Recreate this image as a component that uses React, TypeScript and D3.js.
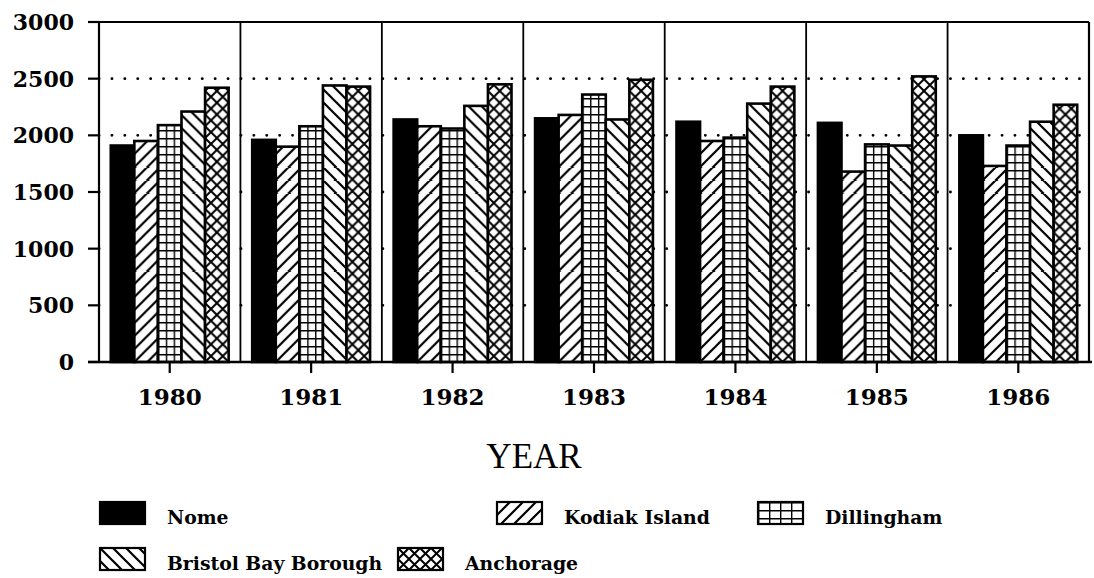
import React from 'react';
import { scaleBand, scaleLinear } from 'd3';

// data
const years = ['1980', '1981', '1982', '1983', '1984', '1985', '1986'];
const seriesNames = ['Nome', 'Kodiak Island', 'Dillingham', 'Bristol Bay Borough', 'Anchorage'];
const nome = [1910, 1960, 2140, 2150, 2120, 2110, 2000];
const kodiak = [1950, 1900, 2080, 2180, 1950, 1680, 1730];
const dillingham = [2090, 2080, 2060, 2360, 1980, 1920, 1910];
const bristol = [2210, 2440, 2260, 2140, 2280, 1910, 2120];
const anchorage = [2420, 2430, 2450, 2490, 2430, 2520, 2270];
const yTickValues = [0, 500, 1000, 1500, 2000, 2500, 3000];
const gridValues = [500, 1000, 1500, 2000, 2500];

const seriesValues = [nome, kodiak, dillingham, bristol, anchorage];
const fills = ['solid', 'fwd', 'grid', 'back', 'cross'];

const FONT = '"DejaVu Serif", serif';

// draws the hatch inside a pattern tile of w x h
function Hatch({ kind, w, h }: { kind: string; w: number; h: number }) {
  if (kind === 'solid') return <rect width={w} height={h} fill="#000" />;
  let d = '';
  let sw = 2.2;
  if (kind === 'fwd') d = `M0,${h} L${w},0 M${-w / 2},${h / 2} L${w / 2},${-h / 2} M${w / 2},${1.5 * h} L${1.5 * w},${h / 2}`;
  if (kind === 'back') d = `M0,0 L${w},${h} M${-w / 2},${h / 2} L${w / 2},${1.5 * h} M${w / 2},${-h / 2} L${1.5 * w},${h / 2}`;
  if (kind === 'grid') { d = `M0,0 L${w},0 M0,0 L0,${h}`; sw = 2.8; }
  if (kind === 'cross') { d = `M0,0 L${w},${h} M${w},0 L0,${h}`; sw = 2; }
  return (
    <g>
      <rect width={w} height={h} fill="#fff" />
      <path d={d} stroke="#000" strokeWidth={sw} fill="none" />
    </g>
  );
}

export default function App() {
  const left = 99, right = 1089, top = 22, bottom = 362;

  const x0 = scaleBand().domain(years).range([left, right]).padding(0);
  const step = x0.bandwidth();
  const x1 = scaleBand().domain(seriesNames).range([step / 12, step * 11 / 12]).padding(0);
  const bw = x1.bandwidth();
  const y = scaleLinear().domain([0, 3000]).range([bottom, top]);

  const tileSize = (kind: string) => {
    if (kind === 'grid') return [bw / 3, 8];
    if (kind === 'cross') return [bw / 2, bw / 2];
    if (kind === 'solid') return [10, 10];
    return [13, 13];
  };

  const patterns: JSX.Element[] = [];
  const bars: JSX.Element[] = [];
  years.forEach((yr, i) => {
    seriesNames.forEach((s, j) => {
      const v = seriesValues[j][i];
      const bx = (x0(yr) as number) + (x1(s) as number);
      const [tw, th] = tileSize(fills[j]);
      const id = `p-${i}-${j}`;
      patterns.push(
        <pattern key={id} id={id} patternUnits="userSpaceOnUse" x={bx} y={bottom} width={tw} height={th}>
          <Hatch kind={fills[j]} w={tw} h={th} />
        </pattern>
      );
      bars.push(
        <rect key={id} x={bx} y={y(v)} width={bw} height={bottom - y(v)}
          fill={`url(#${id})`} stroke="#000" strokeWidth={2.6} />
      );
    });
  });

  // legend placement (layout only)
  const legendPos = [
    [100, 502], [497, 502], [758, 502],
    [100, 548], [398, 548],
  ];
  const legendPatterns = seriesNames.map((s, j) => {
    const [tw, th] = fills[j] === 'grid' ? [11, 8] : fills[j] === 'cross' ? [11, 11] : tileSize(fills[j]);
    const [lx, ly] = legendPos[j];
    return (
      <pattern key={'lp' + j} id={'lp' + j} patternUnits="userSpaceOnUse" x={lx} y={ly} width={tw} height={th}>
        <Hatch kind={fills[j]} w={tw} h={th} />
      </pattern>
    );
  });

  return (
    <svg width={1094} height={578} style={{ position: 'absolute', left: 0, top: 0, background: '#fff' }}>
      <defs>
        {patterns}
        {legendPatterns}
      </defs>

      {/* dotted grid */}
      {gridValues.map(v => (
        <line key={v} x1={left} x2={right} y1={y(v)} y2={y(v)} stroke="#000"
          strokeWidth={2.8} strokeDasharray="0.1 12.8" strokeLinecap="round" />
      ))}

      {/* group separators */}
      {years.slice(1).map(yr => (
        <line key={yr} x1={x0(yr)} x2={x0(yr)} y1={top} y2={bottom} stroke="#000" strokeWidth={1.8} />
      ))}

      {bars}

      {/* frame */}
      <line x1={88} x2={right} y1={top} y2={top} stroke="#000" strokeWidth={2.2} />
      <line x1={left} x2={left} y1={top} y2={bottom} stroke="#000" strokeWidth={2.2} />
      <line x1={right} x2={right} y1={top} y2={bottom} stroke="#000" strokeWidth={2.2} />
      <line x1={88} x2={right + 3} y1={bottom} y2={bottom} stroke="#000" strokeWidth={2.6} />

      {/* y axis */}
      {yTickValues.map(v => (
        <g key={v} transform={`translate(0,${y(v)})`}>
          <line x1={88} x2={left} stroke="#000" strokeWidth={2.2} />
          <text x={74} y={8} textAnchor="end" fontFamily={FONT} fontWeight="bold" fontSize={22}>{v}</text>
        </g>
      ))}

      {/* x axis */}
      {years.map(yr => {
        const cx = (x0(yr) as number) + step / 2;
        return (
          <g key={yr}>
            <line x1={cx} x2={cx} y1={bottom} y2={bottom + 11} stroke="#000" strokeWidth={2.2} />
            <text x={cx} y={405} textAnchor="middle" fontFamily={FONT} fontWeight="bold" fontSize={23}>{yr}</text>
          </g>
        );
      })}

      <text x={534} y={468} textAnchor="middle" fontFamily='"Liberation Serif", serif' fontSize={35}>YEAR</text>

      {/* legend */}
      {seriesNames.map((s, j) => {
        const [lx, ly] = legendPos[j];
        return (
          <g key={s}>
            <rect x={lx} y={ly} width={45} height={22} fill={`url(#lp${j})`} stroke="#000" strokeWidth={2.2} />
            <text x={lx + 67} y={ly + 22} fontFamily={FONT} fontWeight="bold" fontSize={18.8}>{s}</text>
          </g>
        );
      })}
    </svg>
  );
}
